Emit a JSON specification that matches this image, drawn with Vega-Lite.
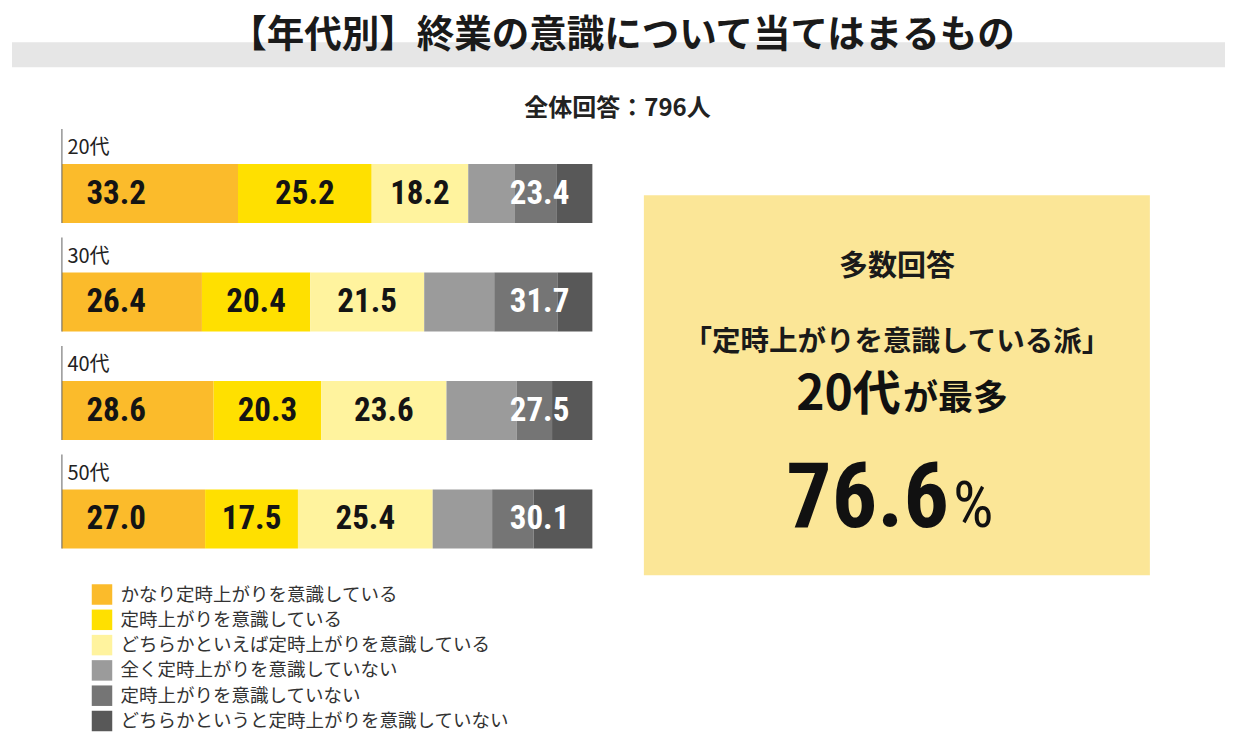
{
  "$schema": "https://vega.github.io/schema/vega-lite/v6.json",
  "padding": {"left": 12, "top": 17.25, "right": 0, "bottom": 0},
  "background": "white",
  "config": {"view": {"stroke": null}, "text": {"font": "Noto Sans CJK JP"}},
  "datasets": {
    "segments": [
      {"age": "20代", "order": 1, "category": "かなり定時上がりを意識している", "value": 33.2},
      {"age": "20代", "order": 2, "category": "定時上がりを意識している", "value": 25.2},
      {"age": "20代", "order": 3, "category": "どちらかといえば定時上がりを意識している", "value": 18.2},
      {"age": "20代", "order": 4, "category": "全く定時上がりを意識していない", "value": 8.7},
      {"age": "20代", "order": 5, "category": "定時上がりを意識していない", "value": 7.9},
      {"age": "20代", "order": 6, "category": "どちらかというと定時上がりを意識していない", "value": 6.8},
      {"age": "30代", "order": 1, "category": "かなり定時上がりを意識している", "value": 26.4},
      {"age": "30代", "order": 2, "category": "定時上がりを意識している", "value": 20.4},
      {"age": "30代", "order": 3, "category": "どちらかといえば定時上がりを意識している", "value": 21.5},
      {"age": "30代", "order": 4, "category": "全く定時上がりを意識していない", "value": 13.2},
      {"age": "30代", "order": 5, "category": "定時上がりを意識していない", "value": 11.9},
      {"age": "30代", "order": 6, "category": "どちらかというと定時上がりを意識していない", "value": 6.6},
      {"age": "40代", "order": 1, "category": "かなり定時上がりを意識している", "value": 28.6},
      {"age": "40代", "order": 2, "category": "定時上がりを意識している", "value": 20.3},
      {"age": "40代", "order": 3, "category": "どちらかといえば定時上がりを意識している", "value": 23.6},
      {"age": "40代", "order": 4, "category": "全く定時上がりを意識していない", "value": 13.2},
      {"age": "40代", "order": 5, "category": "定時上がりを意識していない", "value": 6.7},
      {"age": "40代", "order": 6, "category": "どちらかというと定時上がりを意識していない", "value": 7.6},
      {"age": "50代", "order": 1, "category": "かなり定時上がりを意識している", "value": 27.0},
      {"age": "50代", "order": 2, "category": "定時上がりを意識している", "value": 17.5},
      {"age": "50代", "order": 3, "category": "どちらかといえば定時上がりを意識している", "value": 25.4},
      {"age": "50代", "order": 4, "category": "全く定時上がりを意識していない", "value": 11.2},
      {"age": "50代", "order": 5, "category": "定時上がりを意識していない", "value": 7.8},
      {"age": "50代", "order": 6, "category": "どちらかというと定時上がりを意識していない", "value": 11.1}
    ],
    "totals": [
      {"age": "20代", "notTotal": 23.4},
      {"age": "30代", "notTotal": 31.7},
      {"age": "40代", "notTotal": 27.5},
      {"age": "50代", "notTotal": 30.1}
    ]
  },
  "center": true,
  "spacing": 7,
  "vconcat": [
    {
      "width": 1213,
      "height": 25,
      "view": {"fill": "#e6e6e6", "stroke": null},
      "layer": [
        {
          "data": {"values": [{"t": "【年代別】終業の意識について当てはまるもの"}]},
          "mark": {"type": "text", "fontSize": 37.5, "fontWeight": "bold", "color": "#1a1a1a", "baseline": "middle", "dx": 3.5, "dy": -18.5},
          "encoding": {"text": {"field": "t", "type": "nominal"}}
        },
        {
          "data": {"values": [{"t": "全体回答：796人"}]},
          "mark": {"type": "text", "fontSize": 24, "fontWeight": "bold", "color": "#222222", "baseline": "middle", "dx": -1, "dy": 54.5},
          "encoding": {"text": {"field": "t", "type": "nominal"}}
        }
      ]
    },
    {
      "spacing": 51,
      "hconcat": [
        {
          "width": 530.5,
          "height": 434,
          "data": {"name": "segments"},
          "encoding": {
            "y": {
              "field": "age",
              "type": "nominal",
              "sort": ["20代", "30代", "40代", "50代"],
              "scale": {"paddingInner": 0, "paddingOuter": 0},
              "axis": null
            }
          },
          "layer": [
            {
              "mark": {"type": "bar", "height": 59},
              "encoding": {
                "x": {"field": "value", "type": "quantitative", "stack": "zero", "scale": {"domain": [0, 100], "nice": false}, "axis": null},
                "color": {
                  "field": "category",
                  "type": "nominal",
                  "scale": {
                    "domain": [
                      "かなり定時上がりを意識している",
                      "定時上がりを意識している",
                      "どちらかといえば定時上がりを意識している",
                      "全く定時上がりを意識していない",
                      "定時上がりを意識していない",
                      "どちらかというと定時上がりを意識していない"
                    ],
                    "range": ["#fbbb2b", "#ffe000", "#fff39e", "#9b9b9b", "#757575", "#585858"]
                  },
                  "legend": {
                    "orient": "none",
                    "legendX": 79.5,
                    "legendY": 541.75,
                    "direction": "vertical",
                    "title": null,
                    "padding": 0,
                    "symbolType": "square",
                    "symbolSize": 420,
                    "symbolStrokeWidth": 0,
                    "symbolOpacity": 1,
                    "labelFont": "Noto Sans CJK JP",
                    "labelFontSize": 18.5,
                    "labelColor": "#333333",
                    "labelOffset": 8,
                    "labelLimit": 600,
                    "rowPadding": 4.3
                  }
                },
                "order": {"field": "order", "type": "quantitative"}
              }
            },
            {
              "data": {"name": "totals"},
              "mark": {"type": "tick", "thickness": 1.5, "size": 94, "yOffset": -17.5, "color": "#666666"},
              "encoding": {"x": {"datum": 0, "type": "quantitative"}}
            },
            {
              "data": {"name": "totals"},
              "mark": {"type": "text", "align": "left", "baseline": "middle", "dx": 5.5, "dy": -45.5, "fontSize": 20, "color": "#222222"},
              "encoding": {
                "x": {"datum": 0, "type": "quantitative"},
                "text": {"field": "age", "type": "nominal"}
              }
            },
            {
              "transform": [{"filter": "datum.order == 1"}],
              "mark": {"type": "text", "align": "left", "baseline": "middle", "dx": 24.5, "font": "'Roboto Condensed', 'Liberation Sans Narrow', Roboto, sans-serif", "fontSize": 33, "fontWeight": "bold", "color": "#141414"},
              "encoding": {
                "x": {"datum": 0, "type": "quantitative"},
                "text": {"field": "value", "type": "quantitative", "format": ".1f"}
              }
            },
            {
              "mark": {"type": "text", "align": "center", "baseline": "middle", "font": "'Roboto Condensed', 'Liberation Sans Narrow', Roboto, sans-serif", "fontSize": 33, "fontWeight": "bold", "color": "#141414"},
              "encoding": {
                "x": {"field": "value", "type": "quantitative", "stack": "zero", "bandPosition": 0.5},
                "detail": {"field": "category", "type": "nominal"},
                "order": {"field": "order", "type": "quantitative"},
                "text": {
                  "condition": {"test": "datum.order == 2 || datum.order == 3", "field": "value", "type": "quantitative", "format": ".1f"},
                  "value": ""
                }
              }
            },
            {
              "data": {"name": "totals"},
              "mark": {"type": "text", "align": "right", "baseline": "middle", "dx": -23, "font": "'Roboto Condensed', 'Liberation Sans Narrow', Roboto, sans-serif", "fontSize": 33, "fontWeight": "bold", "color": "#ffffff"},
              "encoding": {
                "x": {"datum": 100, "type": "quantitative"},
                "text": {"field": "notTotal", "type": "quantitative", "format": ".1f"}
              }
            }
          ]
        },
        {
          "spacing": 20,
          "vconcat": [
            {
              "width": 531.25,
              "height": 36,
              "data": {"values": [{}]},
              "mark": {"type": "text"},
              "encoding": {"text": {"value": ""}}
            },
            {
              "width": 506,
              "height": 380,
              "view": {"fill": "#fbe697", "stroke": null},
              "layer": [
                {
                  "data": {"values": [{"t": "多数回答"}]},
                  "mark": {"type": "text", "fontSize": 29, "fontWeight": "bold", "color": "#1a1a1a", "baseline": "middle", "dy": -118},
                  "encoding": {"text": {"field": "t", "type": "nominal"}}
                },
                {
                  "data": {"values": [{"t": "「定時上がりを意識している派」"}]},
                  "mark": {"type": "text", "fontSize": 28.5, "fontWeight": "bold", "color": "#1a1a1a", "baseline": "middle", "dy": -43},
                  "encoding": {"text": {"field": "t", "type": "nominal"}}
                },
                {
                  "data": {"values": [{"t": "20代"}]},
                  "mark": {"type": "text", "fontSize": 48, "fontWeight": "bold", "color": "#111111", "align": "right", "baseline": "alphabetic", "dx": 4, "dy": 25},
                  "encoding": {"text": {"field": "t", "type": "nominal"}}
                },
                {
                  "data": {"values": [{"t": "が最多"}]},
                  "mark": {"type": "text", "fontSize": 35, "fontWeight": "bold", "color": "#111111", "align": "left", "baseline": "alphabetic", "dx": 6, "dy": 25},
                  "encoding": {"text": {"field": "t", "type": "nominal"}}
                },
                {
                  "data": {"values": [{"t": "76.6"}]},
                  "mark": {"type": "text", "font": "'Roboto Condensed', 'Liberation Sans Narrow', Roboto, sans-serif", "fontSize": 90, "fontWeight": "bold", "color": "#111111", "align": "right", "baseline": "alphabetic", "dx": 52, "dy": 142},
                  "encoding": {"text": {"field": "t", "type": "nominal"}}
                },
                {
                  "data": {"values": [{"t": "%"}]},
                  "mark": {"type": "text", "font": "'Roboto Condensed', 'Liberation Sans Narrow', Roboto, sans-serif", "fontSize": 64, "fontWeight": "normal", "color": "#111111", "align": "left", "baseline": "alphabetic", "dx": 56, "dy": 142},
                  "encoding": {"text": {"field": "t", "type": "nominal"}}
                }
              ]
            }
          ]
        }
      ]
    }
  ]
}
